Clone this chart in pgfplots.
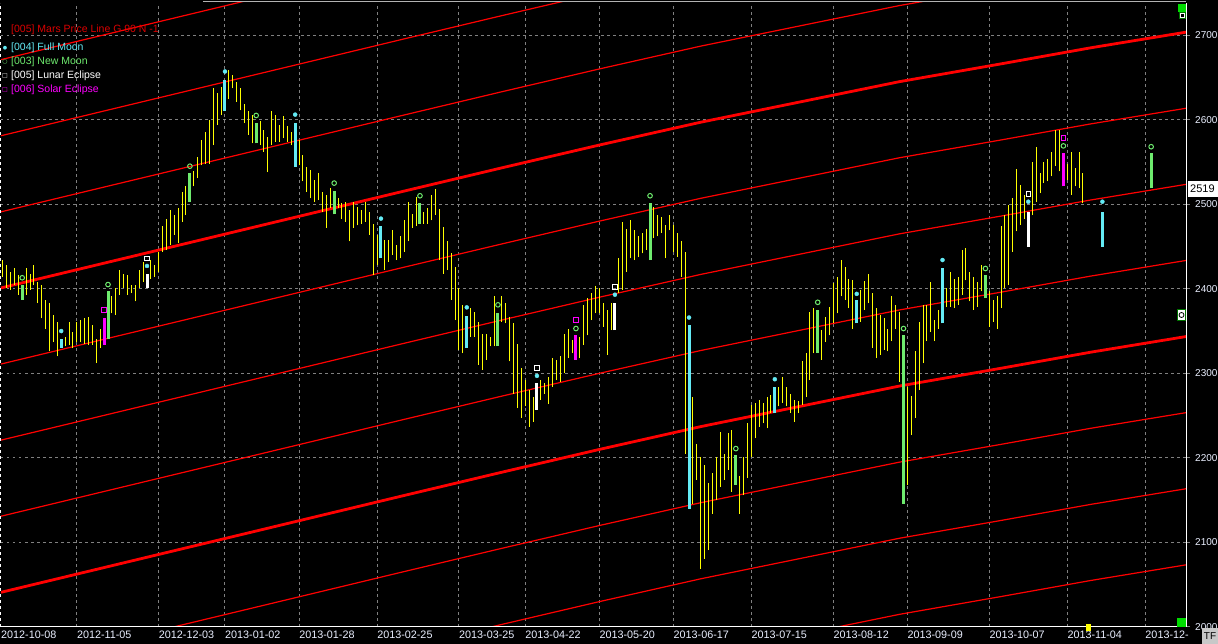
\documentclass[border=0pt]{standalone}
\usepackage{pgfplots}
\pgfplotsset{compat=1.18}
\usepackage{pgfplotstable}
\usepackage{fontspec}
\setmainfont{Liberation Sans}
\newfontfamily\dejavu{DejaVu Sans}

\definecolor{barY}{RGB}{255,255,0}
\definecolor{moonC}{RGB}{100,235,245}
\definecolor{moonG}{RGB}{110,235,110}
\definecolor{eclM}{RGB}{255,0,255}
\definecolor{marsR}{RGB}{255,0,0}
\definecolor{marsT}{RGB}{220,0,0}
\definecolor{gridc}{RGB}{128,128,128}
\definecolor{labc}{RGB}{235,240,255}
\definecolor{flagG}{RGB}{0,220,0}
\definecolor{boxG}{RGB}{0,115,0}
\definecolor{tfgray}{RGB}{200,200,200}

% daily high/low (bar index k), ordinary bars
\pgfplotstableread{
k l h
0 2414 2434
1 2401 2428
2 2399 2420
3 2404 2424
4 2393 2416
6 2393 2424
7 2399 2418
8 2404 2428
9 2383 2408
10 2365 2404
11 2353 2387
12 2326 2383
13 2337 2369
14 2320 2361
16 2332 2343
17 2334 2361
18 2330 2349
19 2337 2361
20 2337 2363
21 2335 2365
22 2334 2367
23 2334 2357
24 2312 2341
25 2330 2353
28 2371 2391
29 2369 2401
30 2393 2422
31 2401 2418
32 2393 2416
33 2395 2404
34 2385 2404
35 2401 2422
36 2408 2432
38 2412 2434
39 2414 2428
40 2420 2444
41 2444 2474
42 2446 2483
43 2452 2493
44 2464 2487
45 2454 2495
46 2479 2515
47 2487 2521
49 2521 2539
50 2531 2556
51 2546 2576
52 2548 2586
53 2548 2600
54 2570 2637
55 2594 2631
56 2606 2639
58 2625 2659
59 2637 2653
60 2621 2645
61 2611 2637
62 2596 2619
63 2582 2610
64 2572 2606
66 2570 2598
67 2562 2588
68 2538 2580
69 2570 2610
70 2574 2606
71 2574 2594
72 2578 2604
73 2574 2592
74 2570 2586
76 2546 2576
77 2527 2558
78 2515 2544
79 2507 2541
80 2503 2529
81 2505 2537
82 2491 2515
83 2472 2511
84 2495 2519
86 2495 2507
87 2483 2501
88 2479 2503
89 2456 2493
90 2472 2503
91 2475 2497
92 2477 2493
93 2479 2503
94 2464 2491
95 2416 2477
96 2428 2464
98 2422 2458
99 2432 2458
100 2440 2470
101 2434 2452
102 2436 2462
103 2444 2481
104 2456 2503
105 2472 2489
106 2474 2509
108 2477 2491
109 2477 2495
110 2481 2511
111 2487 2518
112 2434 2494
113 2418 2473
114 2422 2456
115 2387 2442
116 2363 2426
117 2328 2401
118 2324 2381
120 2343 2377
121 2343 2373
122 2310 2361
123 2304 2347
124 2316 2347
125 2332 2343
126 2332 2391
128 2361 2391
129 2359 2383
130 2314 2367
131 2276 2359
132 2259 2335
133 2247 2306
134 2261 2292
135 2237 2280
136 2243 2272
138 2269 2292
139 2276 2288
140 2264 2296
141 2284 2318
142 2292 2316
143 2290 2320
144 2300 2347
145 2318 2353
146 2324 2339
148 2318 2343
149 2334 2381
150 2345 2389
151 2363 2395
152 2371 2403
153 2371 2401
154 2355 2383
155 2322 2375
156 2351 2383
158 2395 2436
159 2399 2479
160 2420 2471
161 2436 2481
162 2434 2470
163 2438 2462
164 2442 2466
165 2446 2471
167 2460 2497
168 2462 2487
169 2466 2485
170 2436 2475
171 2469 2487
172 2444 2475
173 2438 2466
174 2414 2456
175 2205 2444
177 2146 2272
178 2174 2217
179 2069 2201
180 2081 2192
181 2091 2170
182 2134 2182
183 2150 2201
184 2166 2231
185 2174 2205
186 2186 2229
187 2160 2233
189 2134 2178
190 2156 2201
191 2176 2241
192 2201 2263
193 2223 2265
194 2237 2269
195 2241 2265
196 2235 2272
197 2253 2274
199 2261 2284
200 2265 2296
201 2261 2284
202 2253 2276
203 2243 2269
204 2253 2267
205 2263 2314
206 2272 2324
207 2292 2373
208 2324 2377
210 2316 2351
211 2337 2367
212 2345 2379
213 2359 2407
214 2371 2414
215 2391 2434
216 2387 2426
217 2377 2412
218 2353 2410
220 2361 2399
221 2375 2409
222 2383 2418
223 2330 2395
224 2318 2377
225 2322 2369
226 2328 2365
227 2326 2353
228 2338 2391
229 2353 2381
230 2290 2373
232 2168 2284
233 2227 2273
234 2247 2326
235 2280 2361
236 2312 2381
237 2338 2381
238 2349 2408
239 2338 2363
240 2353 2375
242 2379 2401
243 2379 2420
244 2377 2412
245 2381 2414
246 2393 2446
247 2410 2448
248 2385 2420
249 2375 2414
250 2379 2408
251 2397 2428
253 2355 2397
254 2361 2387
255 2353 2391
256 2377 2474
257 2401 2487
258 2405 2499
259 2444 2507
260 2468 2542
261 2476 2523
262 2483 2511
264 2487 2550
265 2503 2568
266 2513 2537
267 2525 2550
268 2527 2554
269 2533 2562
270 2545 2588
271 2539 2588
273 2529 2548
274 2511 2562
275 2521 2543
276 2519 2562
277 2501 2537
}\bars

% full moon bars
\pgfplotstableread{
k l h
15 2330 2341
57 2610 2647
75 2544 2596
97 2436 2474
119 2330 2368
176 2140 2357
198 2253 2284
219 2359 2387
241 2359 2424
282 2450 2491
}\fullbars

% new moon bars
\pgfplotstableread{
k l h
5 2387 2405
27 2341 2397
48 2503 2537
65 2572 2596
85 2488 2516
107 2477 2501
127 2332 2371
166 2434 2501
188 2168 2203
209 2324 2375
231 2146 2345
252 2389 2416
294.5 2519 2560
}\newbars

% lunar eclipse bars
\pgfplotstableread{
k l h
37 2401 2418
137 2257 2288
157 2351 2383
263 2450 2491
}\lunbars

% solar eclipse bars
\pgfplotstableread{
k l h
26 2334 2365
147 2316 2345
272 2521 2560
}\solbars

% markers above the bars
\pgfplotstableread{
k m
15 2350
37 2427
57 2657
75 2606
97 2483
119 2378
137 2297
157 2393
176 2366
198 2293
219 2394
241 2434
263 2503
282 2503
}\fulldots

\pgfplotstableread{
k m
5 2413
27 2405
48 2545
65 2605
85 2525
107 2510
127 2381
147 2353
166 2510
188 2211
209 2384
231 2353
252 2424
272 2569
294.5 2568
}\newcircs

\pgfplotstableread{
k m
37 2436
137 2306
157 2402
263 2512
}\lunsq

\pgfplotstableread{
k m
26 2375
147 2363
272 2578
}\solsq

% Mars price line, base level (others at multiples of 90)
\pgfplotstableread{
k p
-0.44 2401
51 2458
102 2514.5
127.5 2542.5
153 2570
179 2597
204.5 2621
230 2645
256 2666
279 2685
303.44 2703.5
}\mars

\begin{document}
\begin{tikzpicture}
\useasboundingbox (-1pt,-17pt) rectangle (1217pt,627pt);
\fill[black] (-1pt,-17pt) rectangle (1217pt,627pt);
\begin{axis}[
    at={(0pt,0pt)}, anchor=south west,
    width=1185pt, height=624pt, scale only axis,
    xmin=-0.44, xmax=303.44, ymin=2000, ymax=2738,
    axis line style={draw=none},
    xtick={-0.44,19,40,57,76,96,117,134,153,172,192,213,232,253,273,293},
    xticklabels={2012-10-08,2012-11-05,2012-12-03,2013-01-02,2013-01-28,2013-02-25,2013-03-25,2013-04-22,2013-05-20,2013-06-17,2013-07-15,2013-08-12,2013-09-09,2013-10-07,2013-11-04,2013-12-},
    ytick={2000,2100,...,2700},
    ytick pos=right, yticklabel pos=right,
    tick align=outside, major tick length=4pt,
    xtick style={draw=none},
    ytick style={gridc, line width=1pt},
    grid=major,
    grid style={gridc, line width=1pt, dash pattern=on 2.5pt off 3.5pt},
    xticklabel style={anchor=north west, inner sep=0pt, text=labc, font=\fontsize{10.8}{12}\selectfont},
    yticklabel style={anchor=west, inner sep=0pt, text=labc, font=\fontsize{10}{12}\selectfont, xshift=5pt},
    /pgf/number format/assume math mode=true,
    /pgf/number format/1000 sep={},
    bar/.style={draw=none, mark=none, error bars/.cd, y dir=plus, y explicit, error mark=none},
]
% Mars price lines
\pgfplotsinvokeforeach{-7,-6,-5,-3,-2,-1,1,2,3}{
  \addplot[marsR, line width=1.2pt, mark=none] table[x=k, y expr=\thisrow{p}+90*(#1)] {\mars};
}
\pgfplotsinvokeforeach{-4,0}{
  \addplot[marsR, line width=2.8pt, mark=none] table[x=k, y expr=\thisrow{p}+90*(#1)] {\mars};
}
% ordinary bars
\addplot[bar, error bar style={draw=barY, line width=1pt}]
  table[x=k, y=l, y error plus expr=\thisrow{h}-\thisrow{l}] {\bars};
% event bars
\addplot[bar, error bar style={draw=moonC, line width=3pt}]
  table[x=k, y=l, y error plus expr=\thisrow{h}-\thisrow{l}] {\fullbars};
\addplot[bar, error bar style={draw=moonG, line width=3pt}]
  table[x=k, y=l, y error plus expr=\thisrow{h}-\thisrow{l}] {\newbars};
\addplot[bar, error bar style={draw=white, line width=3pt}]
  table[x=k, y=l, y error plus expr=\thisrow{h}-\thisrow{l}] {\lunbars};
\addplot[bar, error bar style={draw=eclM, line width=3pt}]
  table[x=k, y=l, y error plus expr=\thisrow{h}-\thisrow{l}] {\solbars};
% event markers
\addplot[only marks, mark=*, mark size=2pt, mark options={draw=moonC, fill=moonC}] table[x=k, y=m] {\fulldots};
\addplot[only marks, mark=o, mark size=2.3pt, mark options={draw=moonG, line width=1pt}] table[x=k, y=m] {\newcircs};
\addplot[only marks, mark=square, mark size=2.3pt, mark options={draw=white, line width=1pt}] table[x=k, y=m] {\lunsq};
\addplot[only marks, mark=square, mark size=2.3pt, mark options={draw=eclM, line width=1pt}] table[x=k, y=m] {\solsq};
\end{axis}
% frame
\draw[white, line width=1pt] (1185pt,0pt) -- (1185pt,624pt);
\draw[white, line width=1pt] (0pt,0pt) -- (1185pt,0pt);
\draw[white, line width=1pt, dash pattern=on 2.5pt off 3.5pt] (0pt,0pt) -- (0pt,624pt);
\draw[gray!60, line width=1pt] (202pt,625pt) -- (1185pt,625pt);
% legend
\begin{scope}[every node/.style={anchor=west, inner sep=0pt, font=\fontsize{10.5}{12}\selectfont}]
\node[text=marsT] at (10pt,597pt) {[005] Mars Price Line G 90 N -1};
\node[text=moonC] at (10pt,579pt) {[004] Full Moon};
\node[text=moonG] at (10pt,565pt) {[003] New Moon};
\node[text=white] at (10pt,551pt) {[005] Lunar Eclipse};
\node[text=eclM] at (10pt,537pt) {[006] Solar Eclipse};
\node[text=moonC, font=\dejavu\fontsize{5}{5}\selectfont, anchor=center] at (4pt,579pt) {●};
\node[text=moonG, font=\dejavu\fontsize{6}{6}\selectfont, anchor=center] at (4pt,565pt) {○};
\node[text=white, font=\dejavu\fontsize{6}{6}\selectfont, anchor=center] at (4pt,551pt) {□};
\node[text=eclM, font=\dejavu\fontsize{6}{6}\selectfont, anchor=center] at (4pt,537pt) {□};
\end{scope}
% right side widgets
\fill[white] (1187pt,430pt) rectangle (1217pt,446pt);
\node[anchor=west, inner sep=0pt, text=black, font=\fontsize{11}{12}\selectfont] at (1189pt,438pt) {2519};
\fill[flagG] (1177pt,615pt) rectangle (1185pt,623pt);
\draw[boxG, fill=white] (1178.5pt,608.5pt) rectangle (1184.5pt,614.5pt);
\fill[black] (1180pt,610pt) rectangle (1183pt,613pt);
\draw[boxG, fill=white] (1176.5pt,306.5pt) rectangle (1184.5pt,317.5pt);
\draw[black, line width=0.8pt] (1180.5pt,312pt) circle (2.5pt);
\fill[flagG] (1176pt,0pt) rectangle (1185pt,9pt);
\fill[barY] (1085pt,-4pt) rectangle (1090pt,3pt);
\fill[tfgray] (1201pt,-17pt) rectangle (1217pt,-1pt);
\node[anchor=center, inner sep=0pt, text=black, font=\fontsize{10}{12}\selectfont] at (1209pt,-9pt) {TF};
\end{tikzpicture}
\end{document}
